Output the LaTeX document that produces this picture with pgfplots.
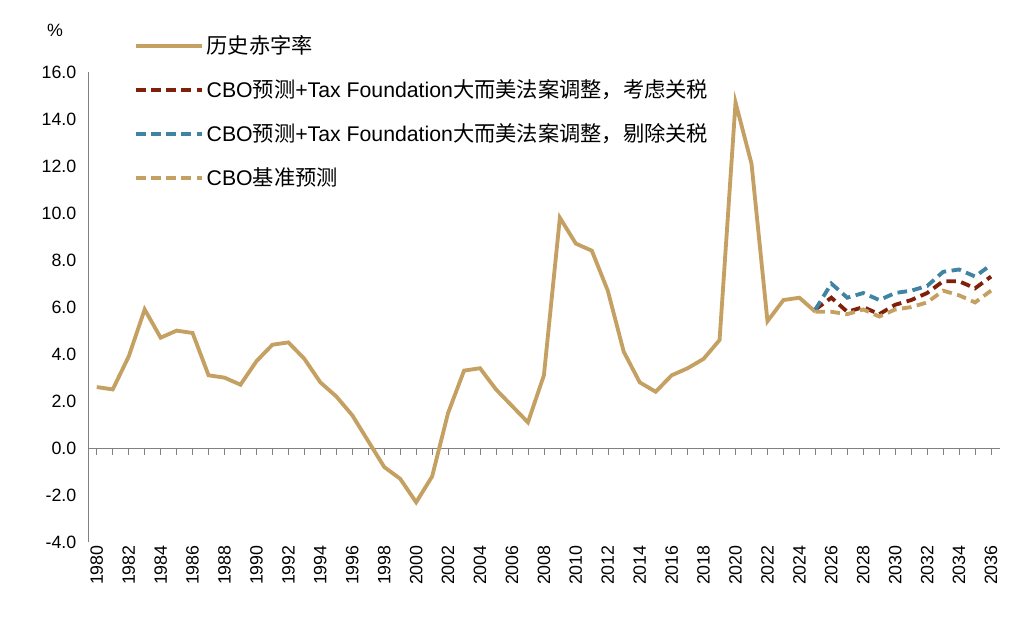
\documentclass[border=0pt]{standalone}
\usepackage{pgfplots}
\pgfplotsset{compat=1.18}
\usepackage{fontspec}
\setmainfont{Liberation Sans}
\newfontfamily\cjk{Noto Sans CJK SC}
\newcommand\zh[1]{{\cjk #1}}
\definecolor{gold}{RGB}{196,160,98}
\definecolor{dred}{RGB}{128,32,10}
\definecolor{steel}{RGB}{64,132,164}
\begin{document}
\fontsize{13}{15}\selectfont
\begin{tikzpicture}
\begin{axis}[
  scale only axis, width=665pt, height=343pt,
  xmin=-0.55, xmax=56.55, ymin=-4, ymax=16,
  x filter/.expression={x-1980},
  axis x line=none, axis y line=left, y axis line style={-, gray},
  ytick={-4,-2,...,16},
  yticklabel style={xshift=-4pt, /pgf/number format/.cd, fixed, fixed zerofill, precision=1},
  /pgf/number format/assume math mode=true,
  major tick length=0pt,
  clip=false,
  legend cell align=left,
  legend style={draw=none, fill=none, at={(0.046,1.09)}, anchor=north west,
    row sep=13pt, font=\fontsize{15.5}{17}\selectfont},
  legend image code/.code={\draw[#1] (0pt,0pt) -- (48pt,0pt);},
]
\path (rel axis cs:-0.0965,-0.187) rectangle (rel axis cs:1.032,1.153);
\draw[gray] (axis cs:-0.55,0) -- (axis cs:56.55,0);
\pgfplotsinvokeforeach{0,...,56}{\draw[gray] (axis cs:#1,0) -- (axis cs:#1,-0.3);}
\pgfplotsinvokeforeach{0,2,...,56}{\node[rotate=90, anchor=east, inner sep=2pt] at (axis cs:#1,-4) {\pgfmathparse{int(#1+1980)}\pgfmathresult};}
\node at (rel axis cs:-0.036,1.089) {\%};
\addplot[gold, line width=2.8pt] coordinates {
(1980,2.6)(1981,2.5)(1982,3.9)(1983,5.9)(1984,4.7)(1985,5.0)(1986,4.9)(1987,3.1)(1988,3.0)(1989,2.7)
(1990,3.7)(1991,4.4)(1992,4.5)(1993,3.8)(1994,2.8)(1995,2.2)(1996,1.4)(1997,0.3)(1998,-0.8)(1999,-1.3)
(2000,-2.3)(2001,-1.2)(2002,1.5)(2003,3.3)(2004,3.4)(2005,2.5)(2006,1.8)(2007,1.1)(2008,3.1)(2009,9.8)
(2010,8.7)(2011,8.4)(2012,6.7)(2013,4.1)(2014,2.8)(2015,2.4)(2016,3.1)(2017,3.4)(2018,3.8)(2019,4.6)
(2020,14.7)(2021,12.1)(2022,5.4)(2023,6.3)(2024,6.4)(2025,5.8)};
\addlegendentry{\zh{历史赤字率}}
\addplot[dred, line width=2.8pt, dash pattern=on 7pt off 4pt] coordinates {
(2025,5.9)(2026,6.4)(2027,5.8)(2028,6.0)(2029,5.7)(2030,6.1)(2031,6.3)(2032,6.6)(2033,7.1)(2034,7.1)(2035,6.8)(2036,7.3)};
\addlegendentry{CBO\zh{预测}+Tax Foundation\zh{大而美法案调整，考虑关税}}
\addplot[steel, line width=2.8pt, dash pattern=on 7pt off 4pt] coordinates {
(2025,5.9)(2026,7.0)(2027,6.4)(2028,6.6)(2029,6.3)(2030,6.6)(2031,6.7)(2032,6.9)(2033,7.5)(2034,7.6)(2035,7.3)(2036,7.8)};
\addlegendentry{CBO\zh{预测}+Tax Foundation\zh{大而美法案调整，剔除关税}}
\addplot[gold, line width=2.8pt, dash pattern=on 7pt off 4pt] coordinates {
(2025,5.8)(2026,5.8)(2027,5.7)(2028,5.9)(2029,5.6)(2030,5.9)(2031,6.0)(2032,6.2)(2033,6.7)(2034,6.5)(2035,6.2)(2036,6.7)};
\addlegendentry{CBO\zh{基准预测}}
\end{axis}
\end{tikzpicture}
\end{document}
